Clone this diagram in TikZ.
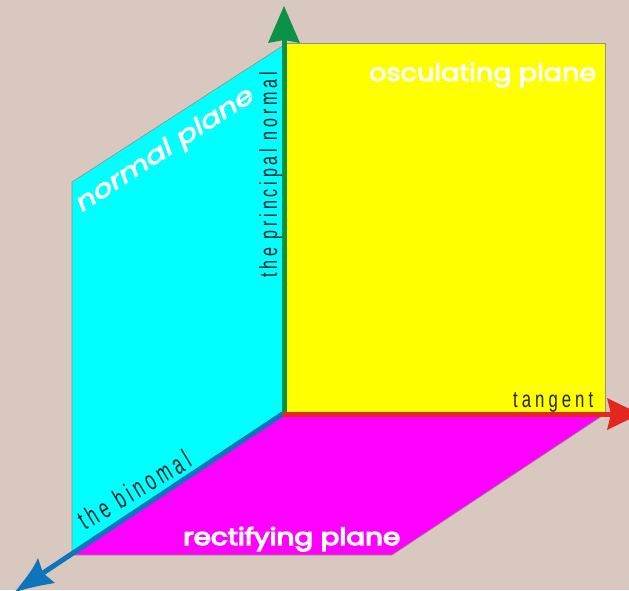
\documentclass[tikz,border=0pt]{standalone}
\usepackage{fontspec}
\setmainfont{Poppins}
\newfontfamily\medfont[FakeBold=3]{Poppins}
\newfontfamily\rectfont[FakeBold=5]{Poppins}
\newfontfamily\normfont[FakeBold=3,ItalicFont={Poppins Italic}]{Poppins}
\newfontfamily\lbl[LetterSpace=24]{Liberation Sans}
\definecolor{bg}{RGB}{216,200,192}
\definecolor{gr}{RGB}{10,146,70}
\definecolor{rd}{RGB}{226,40,30}
\definecolor{bl}{RGB}{14,116,188}
\definecolor{edge}{RGB}{150,145,130}
\definecolor{cy}{RGB}{0,255,255}
\definecolor{ye}{RGB}{255,255,0}
\definecolor{ma}{RGB}{255,0,255}
\tikzset{
  plane/.style={draw=edge,line width=0.6pt},
  shaft/.style={line width=5pt},
  title/.style={inner sep=0pt,text=white,anchor=base west},
  axislabel/.style={inner sep=0pt,text=black!85,anchor=base west}
}
\begin{document}
\begin{tikzpicture}[x=1pt,y=-1pt]
\useasboundingbox (0,0) rectangle (629,590);
\clip (0,0) rectangle (629,590);
\fill[bg] (0,0) rectangle (629,590);
\coordinate (O) at (284,413);
\coordinate (T) at (640,414);
\coordinate (N) at (284,40);
\coordinate (B) at (43,573);
% planes
\filldraw[plane,fill=cy] (O) -- (284,45) -- (72,182) -- (72,553) -- cycle;
\filldraw[plane,fill=ye] (O) -- (284,43) -- (605.5,43) -- (605.5,413) -- cycle;
\filldraw[plane,fill=ma] (O) -- (605,414) -- (392,555) -- (72,555) -- cycle;
% axes
\draw[bl,shaft] (O) -- (B);
\fill[bl] (15,592) .. controls (24,580) and (33,570) .. (38,558) -- (43,573) -- (55,583) .. controls (42,585) and (28,588) .. (15,592) -- cycle;
\draw[gr,shaft] (284,415) -- (N);
\fill[gr] (284,6) -- (300,43) -- (284,40) -- (268,43) -- cycle;
\draw[rd,shaft] (283,414) -- (612,414);
\fill[rd] (640,414) -- (607,430) -- (611,414) -- (607,398) -- cycle;
% plane names
\node[title] (osc) at (369,81) {\resizebox{227pt}{18.5pt}{\medfont osculating plane}};
\node[title] (rec) at (183,545) {\resizebox{217pt}{18pt}{\rectfont rectifying plane}};
\node[title,rotate=33] (nor) at (82,212) {\resizebox{207pt}{18pt}{\normfont\itshape normal plane}};
% axis labels
\node[axislabel] (tan) at (513,407) {\resizebox{80pt}{15pt}{\lbl tangent}};
\node[axislabel,rotate=90] (pri) at (277,278) {\resizebox{206pt}{18pt}{\lbl the principal normal}};
\node[axislabel,rotate=31] (bin) at (85,531) {\resizebox{126pt}{20pt}{\lbl the binomal}};
\end{tikzpicture}
\end{document}
